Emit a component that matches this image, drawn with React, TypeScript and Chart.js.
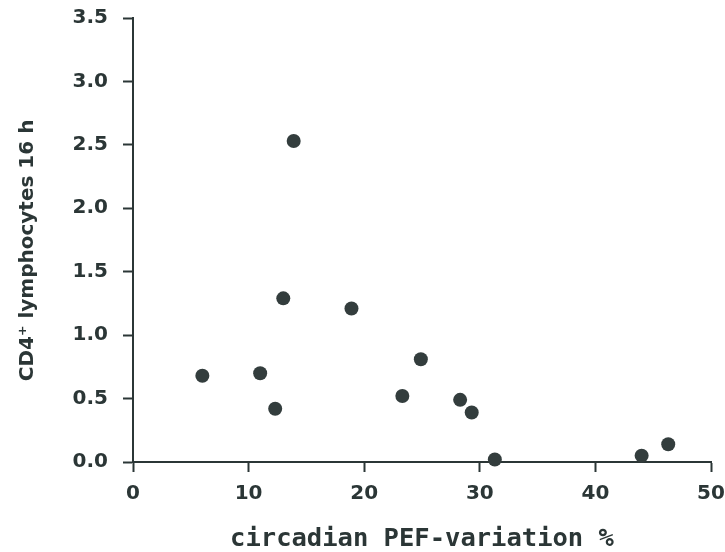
import React, { useEffect, useRef } from "react";
import { Chart, registerables } from "chart.js";

Chart.register(...registerables);

const pefVariation: number[] = [6.0, 11.0, 12.3, 13.0, 13.9, 18.9, 23.3, 24.9, 28.3, 29.3, 31.3, 44.0, 46.3];
const cd4Lymphocytes: number[] = [0.68, 0.70, 0.42, 1.29, 2.53, 1.21, 0.52, 0.81, 0.49, 0.39, 0.02, 0.05, 0.14];
const xTickValues: number[] = [0, 10, 20, 30, 40, 50];
const yTickValues: number[] = [0, 0.5, 1.0, 1.5, 2.0, 2.5, 3.0, 3.5];
const xTitle = "circadian PEF-variation %";
const yTitle = "CD4⁺ lymphocytes 16 h   ";

const INK = "#2b3636";

const zeroPad = (s: any) => {
  s.paddingTop = 0;
  s.paddingBottom = 0;
  s.paddingLeft = 0;
  s.paddingRight = 0;
};

export default function App() {
  const ref = useRef<HTMLCanvasElement | null>(null);

  useEffect(() => {
    document.body.style.margin = "0";
    const canvas = ref.current;
    if (!canvas) return;
    const chart = new Chart(canvas, {
      type: "scatter",
      data: {
        datasets: [
          {
            data: pefVariation.map((x, i) => ({ x, y: cd4Lymphocytes[i] })),
            backgroundColor: "#333d3d",
            borderColor: "#333d3d",
            pointRadius: 7,
            pointHoverRadius: 7,
            borderWidth: 0,
            clip: false as any,
          },
        ],
      },
      options: {
        animation: false,
        responsive: false,
        maintainAspectRatio: false,
        layout: { padding: { top: 18, right: 14, left: 0, bottom: 0 } },
        plugins: { legend: { display: false }, tooltip: { enabled: false } },
        scales: {
          x: {
            type: "linear",
            min: xTickValues[0],
            max: xTickValues[xTickValues.length - 1],
            afterBuildTicks: (s: any) => {
              s.ticks = xTickValues.map((v) => ({ value: v }));
            },
            afterFit: (s: any) => {
              s.height = 90;
              zeroPad(s);
            },
            grid: {
              drawOnChartArea: false,
              drawTicks: true,
              tickLength: 10,
              tickWidth: 2,
              tickColor: INK,
            },
            border: { display: true, color: INK, width: 2 },
            ticks: {
              color: INK,
              padding: 10,
              maxRotation: 0,
              font: { family: "DejaVu Sans", weight: "bold", size: 20 },
              callback: (v: any) => String(v),
            },
            title: {
              display: true,
              text: xTitle,
              color: INK,
              padding: { top: 0, bottom: 0 },
              font: { family: "DejaVu Sans Mono", weight: "bold", size: 25.5, lineHeight: 1 },
            },
          },
          y: {
            type: "linear",
            min: yTickValues[0],
            max: yTickValues[yTickValues.length - 1],
            afterBuildTicks: (s: any) => {
              s.ticks = yTickValues.map((v) => ({ value: v }));
            },
            afterFit: (s: any) => {
              s.width = 133;
              zeroPad(s);
            },
            grid: {
              drawOnChartArea: false,
              drawTicks: true,
              tickLength: 10,
              tickWidth: 2,
              tickColor: INK,
            },
            border: { display: true, color: INK, width: 2 },
            ticks: {
              color: INK,
              padding: 15,
              font: { family: "DejaVu Sans", weight: "bold", size: 20 },
              callback: (v: any) => Number(v).toFixed(1),
            },
            title: {
              display: true,
              text: yTitle,
              color: INK,
              padding: { top: 18, bottom: 0 },
              font: { family: "DejaVu Sans", weight: "bold", size: 20, lineHeight: 1 },
            },
          },
        },
      },
    });
    return () => chart.destroy();
  }, []);

  return (
    <div style={{ width: 725, height: 552, background: "#fff" }}>
      <canvas ref={ref} width={725} height={552} style={{ display: "block", width: 725, height: 552 }} />
    </div>
  );
}
